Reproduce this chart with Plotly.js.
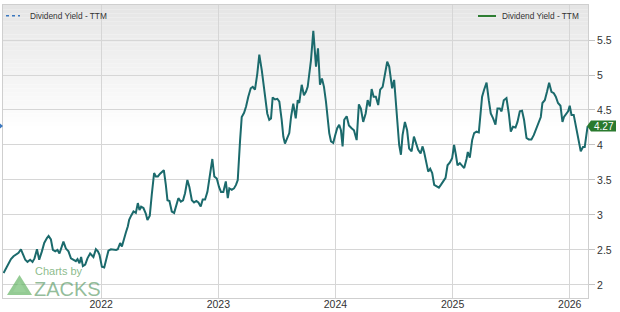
<!DOCTYPE html>
<html>
<head>
<meta charset="utf-8">
<script src="https://cdn.plot.ly/plotly-3.0.1.min.js"></script>
<style>html,body{margin:0;padding:0;background:#fff;}#chart{width:620px;height:312px;}</style>
</head>
<body>
<div id="chart"></div>
<script>
// Dividend Yield - TTM, dates as decimal years
const dA = [2021.167,2021.190,2021.209,2021.230,2021.252,2021.275,2021.295,2021.315,2021.332,2021.352,2021.371,2021.394,2021.414,2021.431,2021.452,2021.471,2021.494,2021.514,2021.537,2021.551,2021.571,2021.588,2021.608,2021.627,2021.644,2021.665,2021.678,2021.699,2021.721,2021.742,2021.764,2021.784,2021.798,2021.815,2021.829,2021.844,2021.864,2021.883,2021.906,2021.921,2021.934,2021.955,2021.972,2021.986,2022.006,2022.026,2022.043,2022.062,2022.083,2022.105,2022.128];
const yA = [2.17,2.25,2.30,2.37,2.41,2.44,2.46,2.51,2.44,2.36,2.33,2.36,2.33,2.38,2.51,2.36,2.48,2.60,2.67,2.70,2.65,2.50,2.48,2.50,2.45,2.55,2.62,2.52,2.48,2.38,2.36,2.34,2.37,2.31,2.40,2.27,2.29,2.38,2.45,2.43,2.40,2.51,2.48,2.43,2.26,2.25,2.38,2.49,2.51,2.50,2.50];
const dB = [2022.142,2022.162,2022.177,2022.190,2022.211,2022.228,2022.239,2022.256,2022.276,2022.296,2022.313,2022.327,2022.341,2022.361,2022.381,2022.395,2022.415,2022.432,2022.452,2022.467,2022.484,2022.503,2022.518,2022.535,2022.552,2022.566,2022.583,2022.603,2022.623,2022.640,2022.659,2022.680,2022.699,2022.716,2022.736,2022.753,2022.774,2022.793,2022.813,2022.830,2022.850,2022.867,2022.887,2022.907,2022.930,2022.949,2022.966,2022.987];
const yB = [2.51,2.60,2.55,2.64,2.75,2.84,2.93,2.99,3.05,3.03,3.17,3.07,3.12,3.10,3.02,2.93,2.99,3.29,3.60,3.55,3.55,3.59,3.62,3.64,3.43,3.21,3.20,3.05,3.03,3.12,3.24,3.19,3.21,3.31,3.50,3.40,3.21,3.18,3.20,3.18,3.12,3.22,3.22,3.33,3.57,3.80,3.55,3.52];
const dC = [2023.006,2023.023,2023.043,2023.064,2023.081,2023.094,2023.115,2023.134,2023.151,2023.166,2023.186,2023.200,2023.220,2023.237,2023.256,2023.277,2023.294,2023.313,2023.333,2023.350,2023.371,2023.384,2023.405,2023.418,2023.435,2023.450,2023.464,2023.484,2023.504,2023.521,2023.541,2023.555,2023.569,2023.589,2023.606,2023.621,2023.640,2023.661,2023.678,2023.691,2023.712,2023.731,2023.748,2023.763,2023.777,2023.791,2023.811,2023.825,2023.834,2023.851,2023.868,2023.885,2023.902,2023.919,2023.934,2023.947,2023.962,2023.981,2023.998];
const yC = [3.40,3.33,3.33,3.48,3.24,3.38,3.36,3.38,3.43,3.50,4.07,4.40,4.46,4.55,4.69,4.81,4.83,4.79,5.02,5.29,5.07,4.88,4.64,4.45,4.36,4.38,4.68,4.65,4.66,4.62,4.36,4.12,4.02,4.10,4.17,4.40,4.59,4.38,4.64,4.60,4.86,4.71,4.76,4.83,5.02,5.21,5.63,5.36,5.12,5.38,4.86,4.95,4.83,4.62,4.40,4.17,4.05,4.03,4.14];
const dD = [2024.015,2024.032,2024.047,2024.061,2024.075,2024.096,2024.115,2024.138,2024.158,2024.181,2024.200,2024.217,2024.237,2024.258,2024.275,2024.294,2024.309,2024.326,2024.345,2024.365,2024.382,2024.403,2024.422,2024.442,2024.459,2024.473,2024.484,2024.501,2024.516,2024.530,2024.544,2024.559,2024.573,2024.593,2024.612,2024.629,2024.650,2024.670,2024.687,2024.706,2024.727,2024.744,2024.757,2024.772,2024.792,2024.809,2024.826,2024.843,2024.863,2024.883,2024.900,2024.919,2024.940,2024.957,2024.977,2024.996];
const yD = [4.24,4.29,4.21,3.98,4.36,4.41,4.28,4.24,4.21,4.07,4.58,4.52,4.33,4.45,4.64,4.55,4.80,4.69,4.69,4.57,4.79,4.83,5.02,5.19,5.12,4.93,4.81,4.93,4.62,4.29,4.00,3.86,4.14,4.33,4.21,3.95,3.91,4.12,4.02,3.93,3.88,3.98,3.90,3.79,3.62,3.66,3.60,3.43,3.41,3.39,3.43,3.48,3.53,3.71,3.75,3.81];
const dE = [2025.013,2025.028,2025.042,2025.062,2025.081,2025.099,2025.119,2025.130,2025.147,2025.167,2025.184,2025.204,2025.224,2025.241,2025.252,2025.269,2025.290,2025.309,2025.326,2025.346,2025.366,2025.383,2025.403,2025.418,2025.437,2025.460,2025.480,2025.497,2025.516,2025.537,2025.554,2025.574,2025.593,2025.610,2025.631,2025.650,2025.673,2025.693,2025.716,2025.736,2025.753,2025.767,2025.787,2025.806,2025.824,2025.844,2025.864,2025.881,2025.900,2025.921,2025.938,2025.951,2025.972,2025.986,2026.000,2026.015,2026.034,2026.051,2026.066,2026.079,2026.094,2026.113,2026.128,2026.142,2026.153];
const yE = [4.00,3.86,3.71,3.74,3.70,3.67,3.80,3.90,3.82,4.07,4.17,4.19,4.18,4.50,4.69,4.79,4.89,4.64,4.45,4.38,4.29,4.52,4.52,4.48,4.64,4.67,4.45,4.19,4.26,4.25,4.33,4.48,4.49,4.36,4.10,4.08,4.08,4.14,4.24,4.32,4.40,4.60,4.64,4.76,4.89,4.76,4.74,4.69,4.60,4.56,4.33,4.40,4.44,4.48,4.56,4.43,4.43,4.27,4.14,4.02,3.91,3.97,3.97,4.14,4.27];

const yearTicks = [2022, 2023, 2024, 2025, 2026];
const yearLabels = ["2022", "2023", "2024", "2025", "2026"];
const yieldTicks = [2, 2.5, 3, 3.5, 4, 4.5, 5, 5.5];
const yieldLabels = ["2", "2.5", "3", "3.5", "4", "4.5", "5", "5.5"];
const seriesName = "Dividend Yield - TTM";

const dates = [].concat(dA, dB, dC, dD, dE);
const values = [].concat(yA, yB, yC, yD, yE);
const lastValue = values[values.length - 1];

// layout geometry helpers (pixel -> paper)
const W = 620, H = 312, mL = 3, mR = 32, mT = 5, mB = 14;
const pw = W - mL - mR, ph = H - mT - mB;
const px = x => (x - mL) / pw;
const py = y => (H - mB - y) / ph;

const FONT = "Liberation Sans, Arial, sans-serif";
const shapes = [];
// background gradient (gray at top fading to white)
const topPx = mT, botPx = 130, nStrips = 30;
for (let i = 0; i < nStrips; i++) {
  const y0 = topPx + (botPx - topPx) * i / nStrips;
  const y1 = topPx + (botPx - topPx) * (i + 1) / nStrips;
  const c = Math.round(229 + (255 - 229) * (i + 0.5) / nStrips);
  shapes.push({type: 'rect', xref: 'paper', yref: 'paper', x0: 0, x1: 1, y0: py(y1), y1: py(y0),
    fillcolor: `rgb(${c},${c},${c})`, line: {width: 0}, layer: 'below'});
}
// legend samples
shapes.push({type: 'line', xref: 'paper', yref: 'paper', x0: px(6), x1: px(20), y0: py(15.7), y1: py(15.7),
  line: {color: '#3b78c0', width: 1.5, dash: 'dot'}});
shapes.push({type: 'line', xref: 'paper', yref: 'paper', x0: px(478), x1: px(496), y0: py(16), y1: py(16),
  line: {color: '#2e7d32', width: 2}});
// left axis marker
shapes.push({type: 'path', xref: 'paper', yref: 'paper',
  path: `M ${px(0)} ${py(123.5)} L ${px(3)} ${py(126)} L ${px(0)} ${py(128.5)} Z`,
  fillcolor: '#3b78c0', line: {width: 0}});
// current value flag
shapes.push({type: 'path', xref: 'paper', yref: 'y', xsizemode: 'pixel', ysizemode: 'pixel',
  xanchor: 1, yanchor: lastValue,
  path: 'M -1,0 L 3,5.5 L 28,5.5 L 28,-5.5 L 3,-5.5 Z',
  fillcolor: '#2a7a2e', line: {width: 0}});
// logo triangle
shapes.push({type: 'path', xref: 'paper', yref: 'paper',
  path: `M ${px(19.5)} ${py(275)} L ${px(32)} ${py(295)} L ${px(7)} ${py(295)} Z`,
  fillcolor: 'rgba(90,175,90,0.65)', line: {width: 0}});
shapes.push({type: 'path', xref: 'paper', yref: 'paper',
  path: `M ${px(19.5)} ${py(281)} L ${px(26)} ${py(292)} L ${px(13)} ${py(292)} Z`,
  fillcolor: 'rgba(160,215,160,0.55)', line: {width: 0}});

const annotations = [
  {xref: 'paper', yref: 'paper', x: px(28), y: py(15.7), xanchor: 'left', yanchor: 'middle', showarrow: false,
   text: seriesName, font: {family: FONT, size: 8.3, color: '#333'}},
  {xref: 'paper', yref: 'paper', x: px(581), y: py(16), xanchor: 'right', yanchor: 'middle', showarrow: false,
   text: seriesName, font: {family: FONT, size: 8.3, color: '#333'}},
  {xref: 'paper', yref: 'y', x: 1, y: lastValue, xshift: 15.5, xanchor: 'center', yanchor: 'middle', showarrow: false,
   text: lastValue.toFixed(2), font: {family: FONT, size: 10, color: '#ffffff'}},
  {xref: 'paper', yref: 'paper', x: px(34), y: py(271), xanchor: 'left', yanchor: 'middle', showarrow: false,
   borderpad: 0, text: 'Charts by', font: {family: FONT, size: 11, color: 'rgba(110,170,110,0.8)'}},
  {xref: 'paper', yref: 'paper', x: px(33), y: py(289), xanchor: 'left', yanchor: 'middle', showarrow: false,
   borderpad: 0, text: 'ZACKS', font: {family: FONT, size: 20, color: 'rgba(100,160,110,0.7)'}}
];

const trace = {
  x: dates, y: values, type: 'scatter', mode: 'lines', name: seriesName,
  line: {color: '#1b6a6c', width: 2}, hoverinfo: 'skip'
};

const layout = {
  width: W, height: H,
  margin: {l: mL, r: mR, t: mT, b: mB, pad: 0},
  paper_bgcolor: '#ffffff', plot_bgcolor: '#ffffff',
  showlegend: false,
  font: {family: FONT, size: 11, color: '#333'},
  xaxis: {
    range: [2021.162, 2026.156], tickmode: 'array', tickvals: yearTicks, ticktext: yearLabels,
    showgrid: true, gridcolor: '#d6d6d6', gridwidth: 1, zeroline: false,
    showline: true, mirror: true, linecolor: '#cfcfcf', linewidth: 1,
    ticks: '', ticklabelstandoff: -4, tickfont: {family: FONT, size: 10.5, color: '#333'}, fixedrange: true
  },
  yaxis: {
    side: 'right', range: [1.814, 6.0], tickmode: 'array', tickvals: yieldTicks, ticktext: yieldLabels,
    showgrid: true, gridcolor: '#d6d6d6', gridwidth: 1, zeroline: false,
    showline: true, mirror: true, linecolor: '#cfcfcf', linewidth: 1,
    ticks: 'outside', ticklen: 6, tickcolor: '#c4c4c4',
    tickfont: {family: FONT, size: 10.5, color: '#333'}, fixedrange: true
  },
  shapes: shapes,
  annotations: annotations
};

Plotly.newPlot('chart', [trace], layout, {displayModeBar: false, staticPlot: true});
</script>
</body>
</html>
